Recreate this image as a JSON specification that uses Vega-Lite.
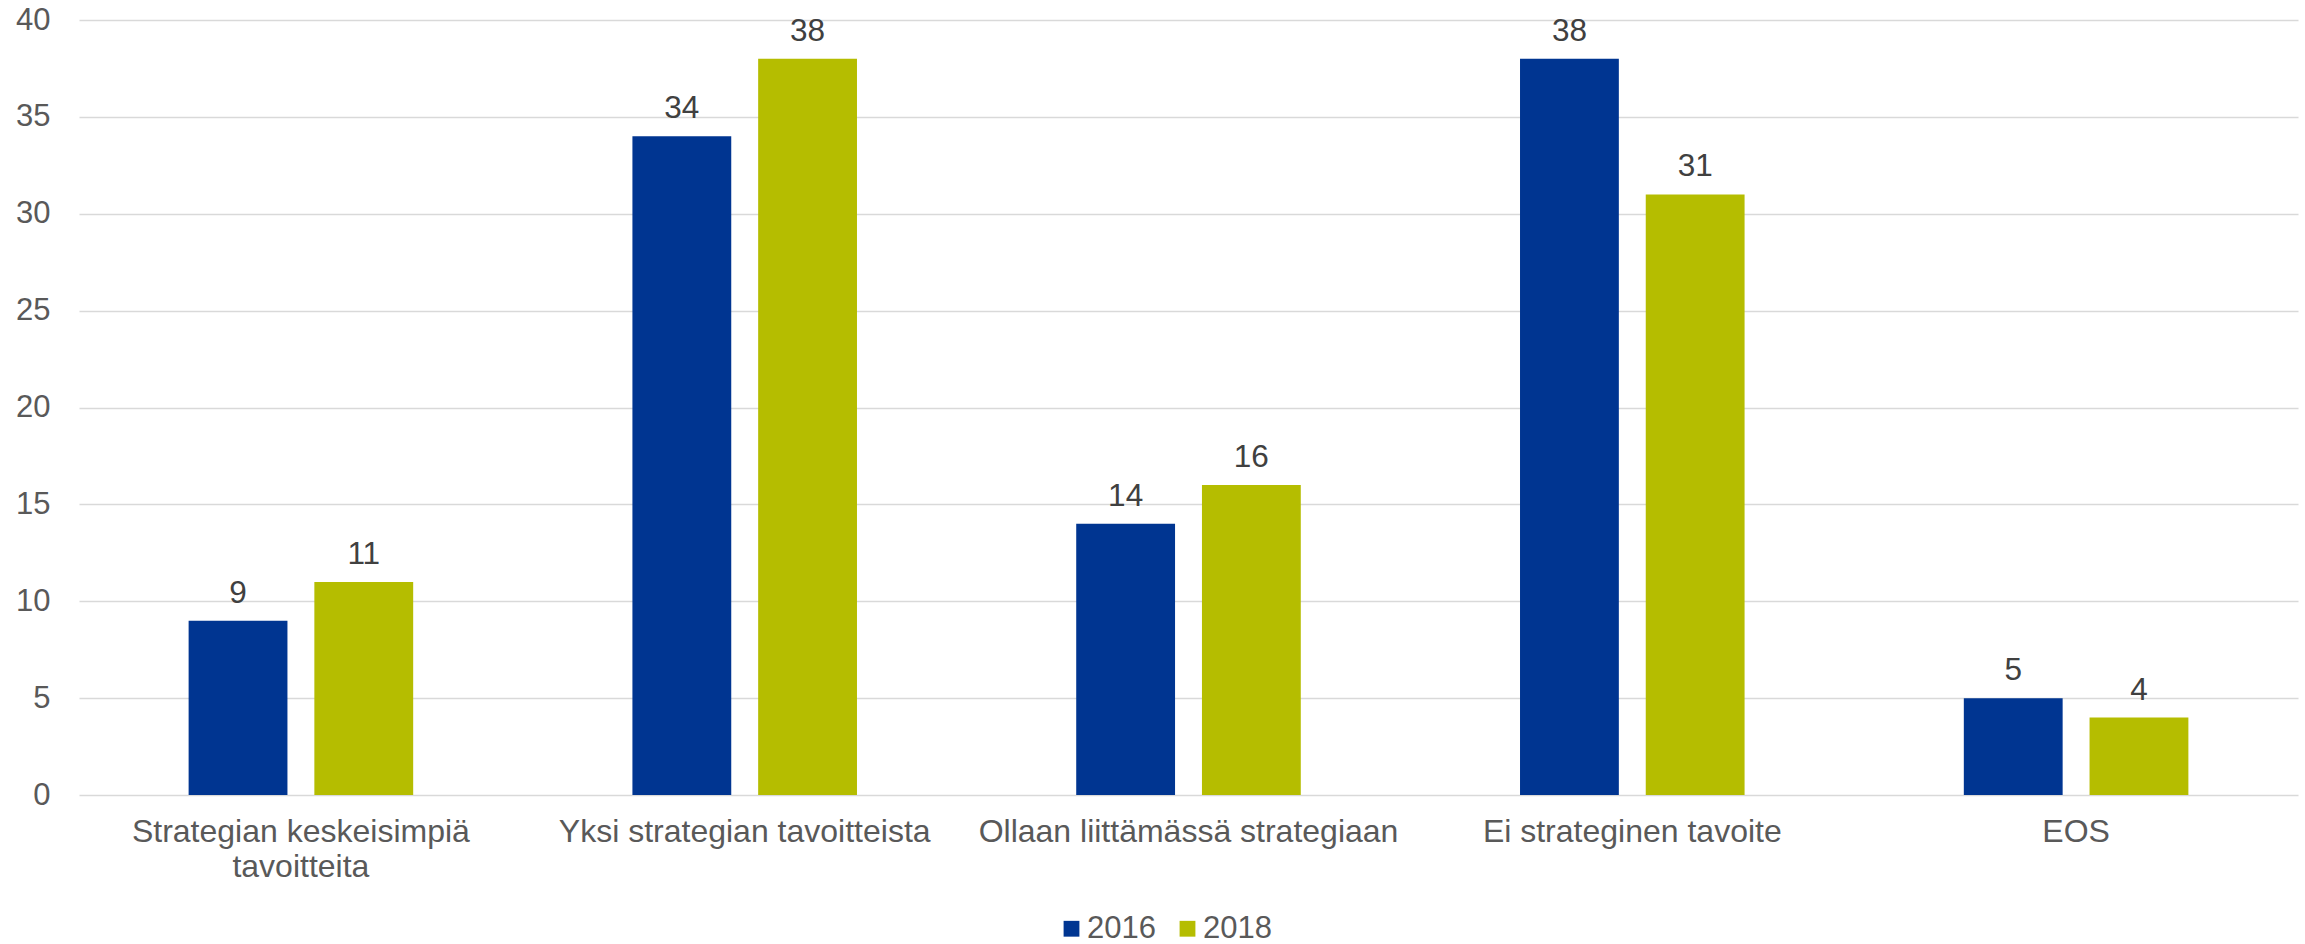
{
  "$schema": "https://vega.github.io/schema/vega-lite/v6.json",
  "autosize": {"type": "none"},
  "padding": {"left": 79, "top": 20, "right": 7, "bottom": 149},
  "width": 2219,
  "height": 775,
  "background": "white",
  "config": {
    "view": {"stroke": null},
    "font": "Liberation Sans"
  },
  "data": {
    "values": [
      {"kategoria": "Strategian keskeisimpiä tavoitteita", "vuosi": "2016", "arvo": 9},
      {"kategoria": "Strategian keskeisimpiä tavoitteita", "vuosi": "2018", "arvo": 11},
      {"kategoria": "Yksi strategian tavoitteista", "vuosi": "2016", "arvo": 34},
      {"kategoria": "Yksi strategian tavoitteista", "vuosi": "2018", "arvo": 38},
      {"kategoria": "Ollaan liittämässä strategiaan", "vuosi": "2016", "arvo": 14},
      {"kategoria": "Ollaan liittämässä strategiaan", "vuosi": "2018", "arvo": 16},
      {"kategoria": "Ei strateginen tavoite", "vuosi": "2016", "arvo": 38},
      {"kategoria": "Ei strateginen tavoite", "vuosi": "2018", "arvo": 31},
      {"kategoria": "EOS", "vuosi": "2016", "arvo": 5},
      {"kategoria": "EOS", "vuosi": "2018", "arvo": 4}
    ]
  },
  "encoding": {
    "x": {
      "field": "kategoria",
      "type": "nominal",
      "sort": null,
      "title": null,
      "scale": {"paddingInner": 0.494, "paddingOuter": 0.247},
      "axis": {
        "labelAngle": 0,
        "labelFont": "Liberation Sans",
        "labelFontSize": 32,
        "labelColor": "#595959",
        "labelPadding": 21,
        "labelLineHeight": 35,
        "labelLimit": 0,
        "ticks": false,
        "domain": false,
        "grid": false,
        "labelExpr": "datum.label == 'Strategian keskeisimpiä tavoitteita' ? ['Strategian keskeisimpiä', 'tavoitteita'] : datum.label"
      }
    },
    "xOffset": {
      "field": "vuosi",
      "type": "nominal",
      "scale": {"paddingInner": 0.214, "paddingOuter": 0}
    },
    "y": {
      "field": "arvo",
      "type": "quantitative",
      "title": null,
      "scale": {"domain": [0, 40], "nice": false},
      "axis": {
        "values": [0, 5, 10, 15, 20, 25, 30, 35, 40],
        "labelFont": "Liberation Sans",
        "labelFontSize": 31,
        "labelColor": "#595959",
        "labelPadding": 29,
        "ticks": false,
        "domain": false,
        "gridColor": "#D9D9D9",
        "gridWidth": 1.5
      }
    }
  },
  "layer": [
    {
      "mark": {"type": "bar"},
      "encoding": {
        "color": {
          "field": "vuosi",
          "type": "nominal",
          "scale": {"domain": ["2016", "2018"], "range": ["#003591", "#B5BD00"]},
          "legend": {
            "title": null,
            "orient": "none",
            "direction": "horizontal",
            "legendX": 977,
            "legendY": 893,
            "symbolType": "square",
            "symbolSize": 250,
            "symbolStrokeWidth": 0,
            "labelFont": "Liberation Sans",
            "labelFontSize": 31,
            "labelColor": "#595959",
            "labelOffset": 0,
            "columnPadding": 16
          }
        }
      }
    },
    {
      "mark": {
        "type": "text",
        "baseline": "alphabetic",
        "dy": -18,
        "font": "Liberation Sans",
        "fontSize": 31.5,
        "color": "#404040"
      },
      "encoding": {
        "text": {"field": "arvo", "type": "quantitative"}
      }
    }
  ]
}
